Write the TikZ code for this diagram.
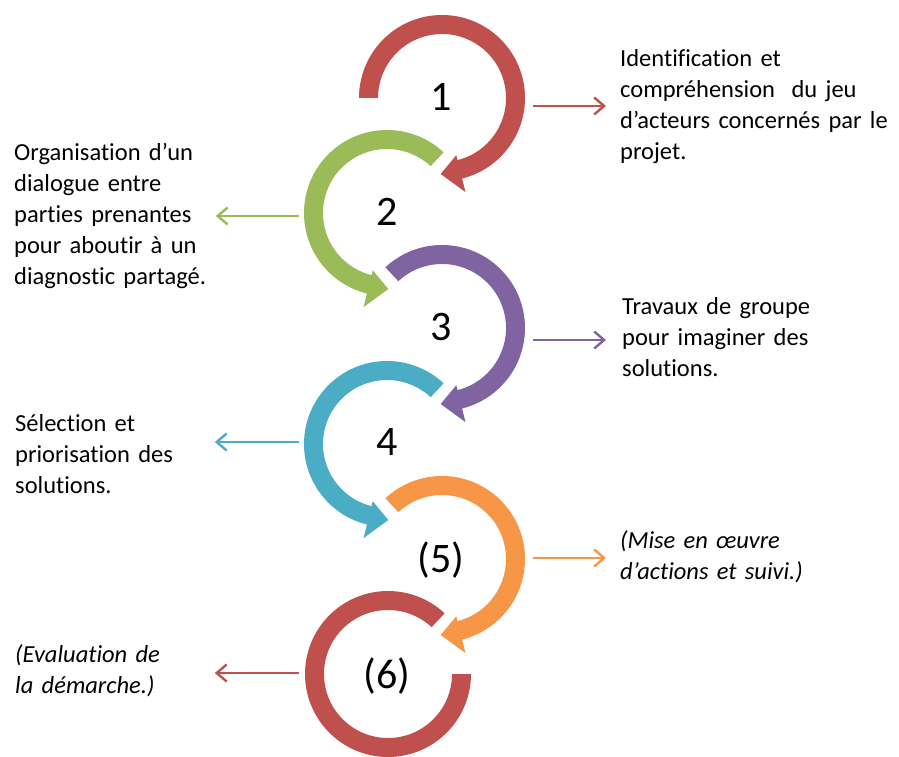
\documentclass[tikz,border=0pt]{standalone}
\usepackage{fontspec}
\setmainfont{Carlito}[WordSpace=1.5, Ligatures={NoCommon}]
\usetikzlibrary{arrows.meta,calc}
\definecolor{cred}{HTML}{C0504D}
\definecolor{cgreen}{HTML}{9BBB59}
\definecolor{cpurple}{HTML}{8064A2}
\definecolor{cteal}{HTML}{4BACC6}
\definecolor{corange}{HTML}{F79646}
\tikzset{
  ring/.style={circle, minimum size=166pt, inner sep=0pt},
  num/.style={font=\fontsize{42}{50}\selectfont, inner sep=0pt},
  txt/.style={anchor=base west, inner sep=0pt, font=\fontsize{24.5}{31}\selectfont},
  conn/.style={line width=2.4pt, -{Straight Barb[length=10pt,width=17pt]}},
}
\newcommand{\rightring}[2]{% start angle, colour
  \fill[#2] (#1:83) arc[start angle=#1, end angle=-76, radius=83]
    -- (-76:97) -- (-91:76) -- (-76:59) -- (-76:64)
    arc[start angle=-76, end angle=#1, radius=64] -- cycle;}
\newcommand{\leftring}[2]{% start angle, colour
  \fill[#2] (#1:83) arc[start angle=#1, end angle=256, radius=83]
    -- (256:97) -- (271:76) -- (256:59) -- (256:64)
    arc[start angle=256, end angle=#1, radius=64] -- cycle;}
\begin{document}
\begin{tikzpicture}[x=1pt,y=1pt]
\useasboundingbox (0,0) rectangle (899,756);
% ring placeholders
\node[ring] (c1) at (442,658) {};
\node[ring] (c2) at (387,543) {};
\node[ring] (c3) at (442,428) {};
\node[ring] (c4) at (387,312) {};
\node[ring] (c5) at (442,197) {};
\node[ring] (c6) at (388,82) {};
% rings
\begin{scope}[shift={(c1.center)}]\rightring{180}{cred}\end{scope}
\begin{scope}[shift={(c2.center)}]\leftring{47}{cgreen}\end{scope}
\begin{scope}[shift={(c3.center)}]\rightring{133}{cpurple}\end{scope}
\begin{scope}[shift={(c4.center)}]\leftring{47}{cteal}\end{scope}
\begin{scope}[shift={(c5.center)}]\rightring{133}{corange}\end{scope}
\begin{scope}[shift={(c6.center)}]
  \fill[cred] (47:83) arc[start angle=47, end angle=360, radius=83]
    -- (0:64) arc[start angle=360, end angle=47, radius=64] -- cycle;
\end{scope}
% numbers
\node[num] (n1) at (441,659) {1};
\node[num] (n2) at (387,544) {2};
\node[num] (n3) at (441,429) {3};
\node[num] (n4) at (387,314) {4};
\node[num] (n5) at (441,196) {(5)};
\node[num] (n6) at (387,80) {(6)};
% texts
\node[txt] (t1) at (620,689) {\begin{tabular}[t]{@{}l@{}}Identification et\\compréhension\ \ du jeu\\d’acteurs concernés par le\\projet.\end{tabular}};
\node[txt] (t2) at (14,595) {\begin{tabular}[t]{@{}l@{}}Organisation d’un\\dialogue entre\\parties prenantes\\pour aboutir à un\\diagnostic partagé.\end{tabular}};
\node[txt] (t3) at (622,441) {\begin{tabular}[t]{@{}l@{}}Travaux de groupe\\pour imaginer des\\solutions.\end{tabular}};
\node[txt] (t4) at (15,325) {\begin{tabular}[t]{@{}l@{}}Sélection et\\priorisation des\\solutions.\end{tabular}};
\node[txt] (t5) at (620,208) {\itshape\begin{tabular}[t]{@{}l@{}}(Mise en œuvre\\d’actions et suivi.)\end{tabular}};
\node[txt] (t6) at (15,94) {\itshape\begin{tabular}[t]{@{}l@{}}(Evaluation de\\la démarche.)\end{tabular}};
% connectors
\draw[conn, cred]    ($(c1.east)+(8,-8)$)  -- ($(c1.east -| t1.west)+(-14,-8)$);
\draw[conn, cgreen]  ($(c2.west)+(-5,-3)$) -- ($(c2.west)+(-88,-3)$);
\draw[conn, cpurple] ($(c3.east)+(8,-12)$) -- ($(c3.east -| t3.west)+(-16,-12)$);
\draw[conn, cteal]   ($(c4.west)+(-5,2)$)  -- ($(c4.west)+(-89,2)$);
\draw[conn, corange] ($(c5.east)+(8,1)$)   -- ($(c5.east -| t5.west)+(-14,1)$);
\draw[conn, cred]    ($(c6.west)+(-6,1)$)  -- ($(c6.west)+(-90,1)$);
\end{tikzpicture}
\end{document}
